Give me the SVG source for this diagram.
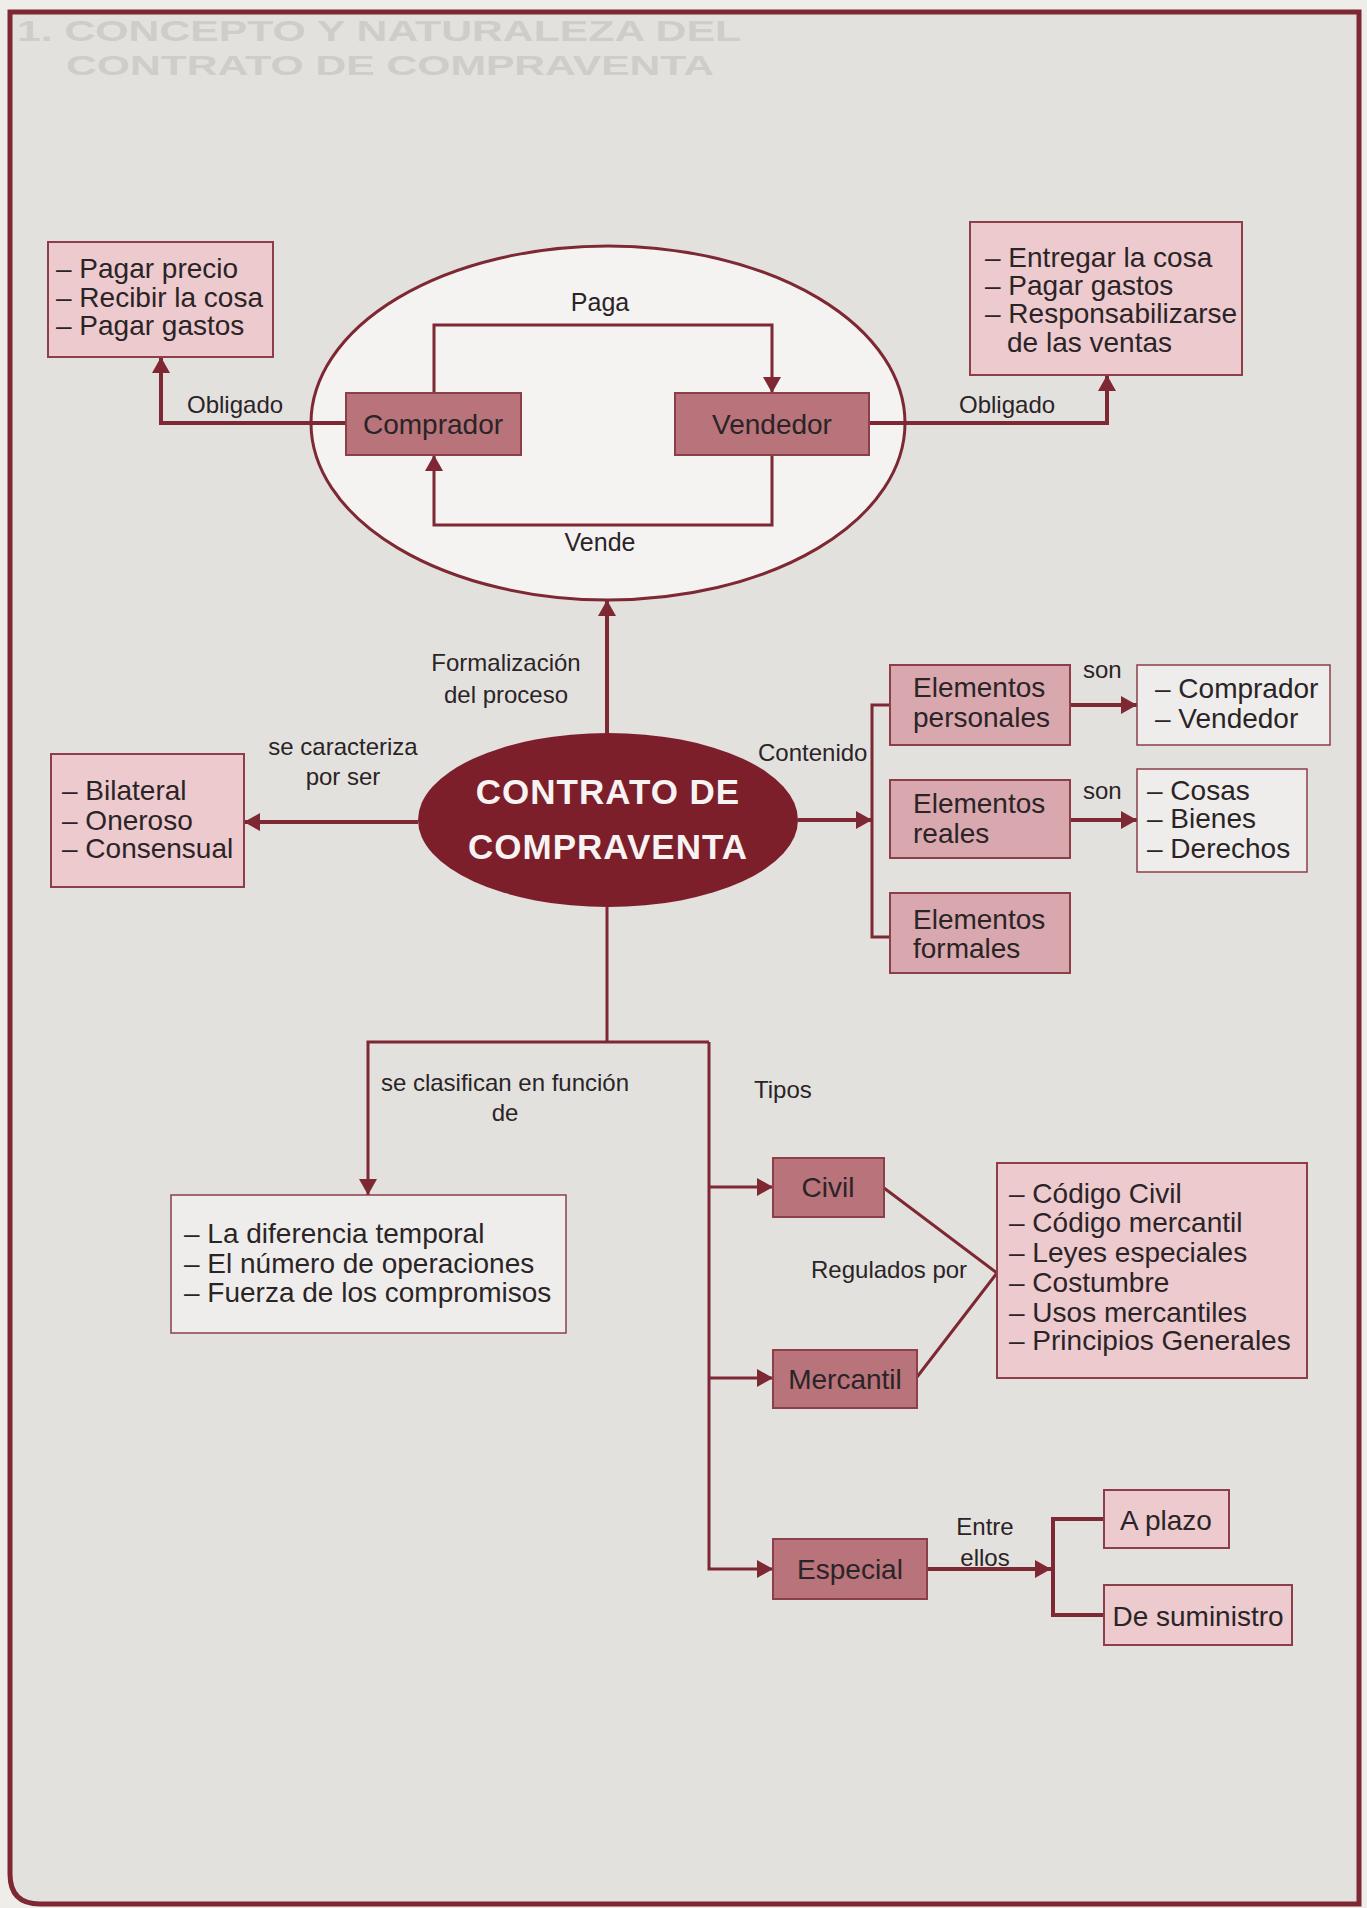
<svg xmlns="http://www.w3.org/2000/svg" width="1367" height="1908" viewBox="0 0 1367 1908">
<defs>
<style>
.t{font-family:"Liberation Sans",Arial,Helvetica,sans-serif;fill:#2b2427}
.b{font-size:28px}
.l{font-size:24px}
.m{text-anchor:middle}
.c{stroke:#7d2832;fill:none;stroke-width:4}
.c3{stroke:#7d2832;fill:none;stroke-width:3}
.dk{fill:#b8737b;stroke:#8c3f49;stroke-width:2}
.el{fill:#d9a8ae;stroke:#8c3f49;stroke-width:2}
.lt{fill:#edcace;stroke:#8c3f49;stroke-width:2}
.wt{fill:#efedeb;stroke:#8c3f49;stroke-width:1.5}
.ttl{font-family:"Liberation Sans",Arial,sans-serif;font-weight:bold;fill:#cfccc9}
</style>
<marker id="ah" viewBox="0 0 16 18" refX="16" refY="9" markerWidth="16" markerHeight="18" markerUnits="userSpaceOnUse" orient="auto"><path d="M0,0 L16,9 L0,18 z" fill="#7d2832"/></marker>
</defs>
<rect x="0" y="0" width="1367" height="1908" fill="#efedea"/>
<path d="M10,12 H1359 V1904 H40 Q10,1904 10,1874 Z" fill="#e3e1de" stroke="#7d2832" stroke-width="5"/>
<text class="ttl" x="17" y="41" font-size="30" textLength="724" lengthAdjust="spacingAndGlyphs">1. CONCEPTO Y NATURALEZA DEL</text>
<text class="ttl" x="66" y="75" font-size="28" textLength="648" lengthAdjust="spacingAndGlyphs">CONTRATO DE COMPRAVENTA</text>

<g id="partes">
<ellipse cx="608" cy="423" rx="297" ry="177" fill="#f5f3f2" stroke="#7d2832" stroke-width="3"/>
</g>

<g id="connectors">
<path class="c" d="M346,423 H161 V357" marker-end="url(#ah)"/>
<path class="c" d="M869,423 H1107 V375" marker-end="url(#ah)"/>
<path class="c3" d="M434,393 V325 H772 V393" marker-end="url(#ah)"/>
<path class="c3" d="M772,455 V525 H434 V455" marker-end="url(#ah)"/>
<path class="c" d="M607,733 V600" marker-end="url(#ah)"/>
<path class="c" d="M418,822 H244" marker-end="url(#ah)"/>
<path class="c" d="M798,820 H872" marker-end="url(#ah)"/>
<path class="c3" d="M890,705 H872 V937 H890"/>
<path class="c" d="M1070,705 H1137" marker-end="url(#ah)"/>
<path class="c" d="M1070,820 H1137" marker-end="url(#ah)"/>
<path class="c3" d="M607,907 V1042"/>
<path class="c3" d="M709,1042 H368 V1195" marker-end="url(#ah)"/>
<path class="c3" d="M709,1042 V1569 H773" marker-end="url(#ah)"/>
<path class="c3" d="M709,1187 H773" marker-end="url(#ah)"/>
<path class="c3" d="M709,1378 H773" marker-end="url(#ah)"/>
<path class="c3" d="M884,1188 L997,1273 L917,1377"/>
<path class="c" d="M927,1569 H1051" marker-end="url(#ah)"/>
<path class="c" d="M1104,1519 H1053 V1615 H1104"/>
</g>

<g id="labels">
<text class="t l" x="187" y="413">Obligado</text>
<text class="t l" x="959" y="413">Obligado</text>
<text class="t m" x="600" y="311" font-size="25">Paga</text>
<text class="t m" x="600" y="551" font-size="25">Vende</text>
<text class="t l m" x="506" y="671">Formalización</text>
<text class="t l m" x="506" y="703">del proceso</text>
<text class="t l m" x="343" y="755">se caracteriza</text>
<text class="t l m" x="343" y="785">por ser</text>
<text class="t l" x="758" y="761">Contenido</text>
<text class="t l" x="1083" y="678">son</text>
<text class="t l" x="1083" y="799">son</text>
<text class="t l m" x="505" y="1091">se clasifican en función</text>
<text class="t l m" x="505" y="1121">de</text>
<text class="t l" x="754" y="1098">Tipos</text>
<text class="t l" x="811" y="1278">Regulados por</text>
<text class="t l m" x="985" y="1535">Entre</text>
<text class="t l m" x="985" y="1566">ellos</text>
</g>

<g id="obligaciones-comprador">
<rect class="lt" x="48" y="242" width="225" height="115"/>
<text class="t b" x="56" y="278">– Pagar precio</text>
<text class="t b" x="56" y="307">– Recibir la cosa</text>
<text class="t b" x="56" y="335">– Pagar gastos</text>
</g>
<g id="obligaciones-vendedor">
<rect class="lt" x="970" y="222" width="272" height="153"/>
<text class="t b" x="985" y="267">– Entregar la cosa</text>
<text class="t b" x="985" y="295">– Pagar gastos</text>
<text class="t b" x="985" y="323">– Responsabilizarse</text>
<text class="t b" x="1007" y="352">de las ventas</text>
</g>
<g id="comprador">
<rect class="dk" x="346" y="393" width="175" height="62"/>
<text class="t b m" x="433" y="434">Comprador</text>
</g>
<g id="vendedor">
<rect class="dk" x="675" y="393" width="194" height="62"/>
<text class="t b m" x="772" y="434">Vendedor</text>
</g>
<g id="contrato">
<ellipse cx="608" cy="820" rx="190" ry="87" fill="#7c1f2b"/>
<text class="m" x="608" y="804" font-family="Liberation Sans, Arial, sans-serif" font-weight="bold" font-size="35" letter-spacing="1" fill="#f7f3f3">CONTRATO DE</text>
<text class="m" x="608" y="859" font-family="Liberation Sans, Arial, sans-serif" font-weight="bold" font-size="35" letter-spacing="1" fill="#f7f3f3">COMPRAVENTA</text>
</g>
<g id="caracteristicas">
<rect class="lt" x="51" y="754" width="193" height="133"/>
<text class="t b" x="62" y="800">– Bilateral</text>
<text class="t b" x="62" y="830">– Oneroso</text>
<text class="t b" x="62" y="858">– Consensual</text>
</g>
<g id="elementos-personales">
<rect class="el" x="890" y="665" width="180" height="80"/>
<text class="t b" x="913" y="697">Elementos</text>
<text class="t b" x="913" y="727">personales</text>
</g>
<g id="elementos-reales">
<rect class="el" x="890" y="780" width="180" height="78"/>
<text class="t b" x="913" y="813">Elementos</text>
<text class="t b" x="913" y="843">reales</text>
</g>
<g id="elementos-formales">
<rect class="el" x="890" y="893" width="180" height="80"/>
<text class="t b" x="913" y="929">Elementos</text>
<text class="t b" x="913" y="958">formales</text>
</g>
<g id="personas">
<rect class="wt" x="1137" y="665" width="193" height="80"/>
<text class="t b" x="1155" y="698">– Comprador</text>
<text class="t b" x="1155" y="728">– Vendedor</text>
</g>
<g id="objetos">
<rect class="wt" x="1137" y="769" width="170" height="103"/>
<text class="t b" x="1147" y="800">– Cosas</text>
<text class="t b" x="1147" y="828">– Bienes</text>
<text class="t b" x="1147" y="858">– Derechos</text>
</g>
<g id="criterios">
<rect class="wt" x="171" y="1195" width="395" height="138"/>
<text class="t b" x="184" y="1243">– La diferencia temporal</text>
<text class="t b" x="184" y="1273">– El número de operaciones</text>
<text class="t b" x="184" y="1302">– Fuerza de los compromisos</text>
</g>
<g id="civil">
<rect class="dk" x="773" y="1158" width="111" height="59"/>
<text class="t b m" x="828" y="1197">Civil</text>
</g>
<g id="mercantil">
<rect class="dk" x="773" y="1350" width="144" height="58"/>
<text class="t b m" x="845" y="1389">Mercantil</text>
</g>
<g id="normas">
<rect class="lt" x="997" y="1163" width="310" height="215"/>
<text class="t b" x="1009" y="1203">– Código Civil</text>
<text class="t b" x="1009" y="1232">– Código mercantil</text>
<text class="t b" x="1009" y="1262">– Leyes especiales</text>
<text class="t b" x="1009" y="1292">– Costumbre</text>
<text class="t b" x="1009" y="1322">– Usos mercantiles</text>
<text class="t b" x="1009" y="1350">– Principios Generales</text>
</g>
<g id="especial">
<rect class="dk" x="773" y="1539" width="154" height="60"/>
<text class="t b m" x="850" y="1579">Especial</text>
</g>
<g id="a-plazo">
<rect class="lt" x="1104" y="1490" width="125" height="58"/>
<text class="t b m" x="1166" y="1530">A plazo</text>
</g>
<g id="de-suministro">
<rect class="lt" x="1104" y="1585" width="188" height="60"/>
<text class="t b m" x="1198" y="1626">De suministro</text>
</g>
</svg>
